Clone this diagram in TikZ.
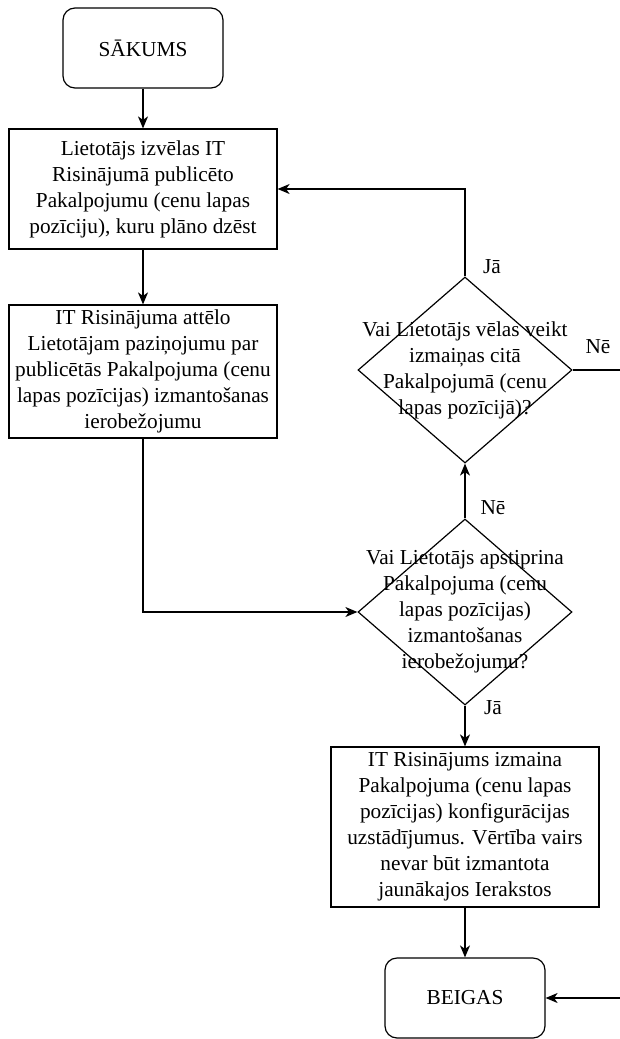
\documentclass[tikz,border=0pt]{standalone}
\usepackage{fontspec}
\setmainfont{Liberation Serif}
\usetikzlibrary{shapes.geometric,arrows.meta}

\tikzset{
  terminal/.style={draw, rounded corners=12pt, minimum width=160pt, minimum height=80pt, inner sep=0pt},
  process/.style={draw, minimum width=268pt, inner sep=0pt, align=center},
  decision/.style={draw, diamond, minimum width=214pt, minimum height=186pt, inner sep=0pt},
  flow/.style={-{Stealth[length=12pt, width=10pt, inset=3.5pt]}},
  answer/.style={inner sep=0pt}
}

\begin{document}
\begin{tikzpicture}[x=1pt, y=-1pt, line width=1.2pt, every node/.style={font=\fontsize{21.3}{26}\selectfont}]
  % 1. page frame (pixel grid, y downwards)
  \useasboundingbox (0,0) rectangle (620,1039);
  \clip (0,0) rectangle (620,1039);

  % 2. left column: start and first two steps
  \node[terminal] (start) at (143,48) {SĀKUMS};
  \node[process, minimum height=120pt] (act1) at (143,189)
    {Lietotājs izvēlas IT\\Risinājumā publicēto\\Pakalpojumu (cenu lapas\\pozīciju), kuru plāno dzēst};
  \node[process, minimum height=133pt] (act2) at (143,371.5)
    {IT Risinājuma attēlo\\Lietotājam paziņojumu par\\publicētās Pakalpojuma (cenu\\lapas pozīcijas) izmantošanas\\ierobežojumu};

  % 3. right column: the two questions, last step and end
  \node[decision, label={[align=center]center:Vai Lietotājs vēlas veikt\\izmaiņas citā\\Pakalpojumā (cenu\\lapas pozīcijā)?}] (ask1) at (465,370) {};
  \node[decision, label={[align=center]center:Vai Lietotājs apstiprina\\Pakalpojuma (cenu\\lapas pozīcijas)\\izmantošanas\\ierobežojumu?}] (ask2) at (465,612) {};
  \node[process, minimum height=160pt] (act3) at (465,827)
    {IT Risinājums izmaina\\Pakalpojuma (cenu lapas\\pozīcijas) konfigurācijas\\uzstādījumus. Vērtība vairs\\nevar būt izmantota\\jaunākajos Ierakstos};
  \node[terminal] (stop) at (465,998) {BEIGAS};

  % 4. answers on the branches
  \node[answer] (yes1) at (492,267) {Jā};
  \node[answer] (no1) at (598,347) {Nē};
  \node[answer] (no2) at (493,508) {Nē};
  \node[answer] (yes2) at (493,708) {Jā};

  % 5. connectors (the "Nē" branch runs past the right edge)
  \coordinate (detour) at (660,0);
  \draw[flow] (start) -- (act1);
  \draw[flow] (act1) -- (act2);
  \draw[flow] (act2.south) |- (ask2.west);
  \draw[flow] (ask2) -- (ask1);
  \draw[flow] (ask1.north) |- (act1.east);
  \draw[flow] (ask1.east) -- (ask1.east -| detour) |- (stop.east);
  \draw[flow] (ask2) -- (act3);
  \draw[flow] (act3) -- (stop);
\end{tikzpicture}
\end{document}
